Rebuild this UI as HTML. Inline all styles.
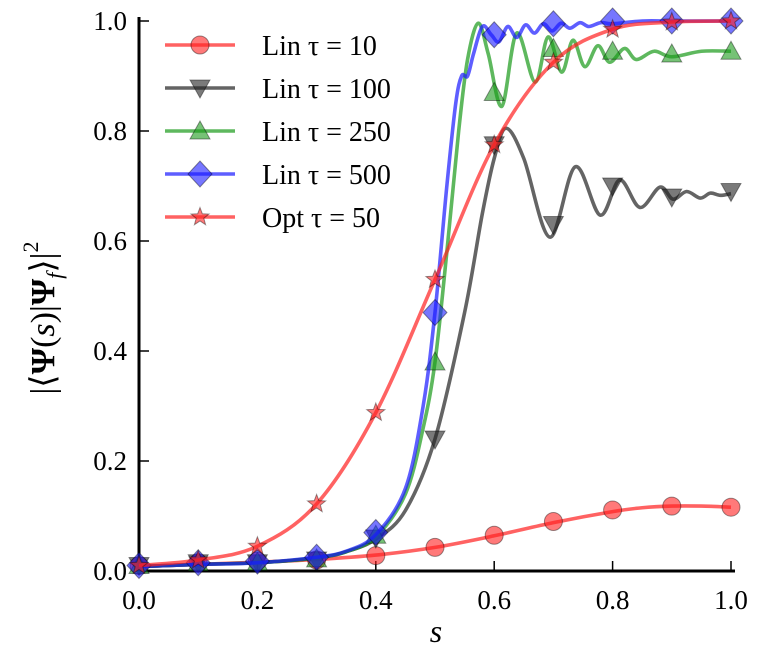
<!DOCTYPE html>
<html><head><meta charset="utf-8"><style>
html,body{margin:0;padding:0;background:#fff;}
svg{display:block;font-family:"Liberation Serif",serif;}
</style></head><body>
<svg id="chart" width="758" height="648" viewBox="0 0 758 648"></svg>
<script>
// ---- data ----
const markerS = [0,0.1,0.2,0.3,0.4,0.5,0.6,0.7,0.8,0.9,1.0];
const lin10Markers  = [0.010,0.015,0.018,0.020,0.028,0.043,0.065,0.090,0.111,0.118,0.116];
const lin100Markers = [0.010,0.015,0.015,0.020,0.060,0.240,0.775,0.630,0.700,0.680,0.690];
const lin250Markers = [0.010,0.015,0.016,0.022,0.065,0.380,0.870,0.950,0.945,0.940,0.945];
const lin500Markers = [0.010,0.015,0.018,0.025,0.070,0.470,0.975,0.995,1.000,1.000,1.000];
const opt50Markers  = [0.010,0.020,0.045,0.122,0.288,0.530,0.775,0.925,0.985,0.998,1.000];

const lin10S = [0,0.1,0.2,0.3,0.4,0.5,0.6,0.7,0.8,0.85,0.9,0.95,1.0];
const lin10V = [0.008,0.012,0.016,0.021,0.029,0.043,0.064,0.088,0.108,0.115,0.118,0.118,0.116];

const lin100S = [0,0.1,0.2,0.3,0.35,0.4,0.45,0.5,0.55,0.58,0.6,0.62,0.65,0.694,0.737,0.779,0.812,0.846,0.88,0.902,0.925,0.948,0.965,0.982,1.0];
const lin100V = [0.008,0.012,0.015,0.024,0.035,0.058,0.11,0.24,0.47,0.65,0.75,0.805,0.75,0.607,0.735,0.647,0.711,0.661,0.698,0.676,0.690,0.678,0.687,0.683,0.686];

const lin250S = [0,0.1,0.2,0.3,0.35,0.4,0.45,0.48,0.5,0.52,0.54,0.555,0.573,0.59,0.613,0.638,0.669,0.691,0.714,0.733,0.753,0.775,0.795,0.82,0.84,0.87,0.9,0.95,1.0];
const lin250V = [0.008,0.012,0.015,0.024,0.035,0.062,0.14,0.26,0.38,0.58,0.80,0.93,0.996,0.94,0.845,0.978,0.889,0.971,0.907,0.965,0.917,0.955,0.925,0.950,0.930,0.945,0.935,0.945,0.945];

const lin500S = [0,0.1,0.2,0.3,0.35,0.4,0.45,0.48,0.5,0.52,0.535,0.545,0.555,0.565,0.58,0.595,0.608,0.623,0.638,0.653,0.668,0.683,0.698,0.713,0.728,0.745,0.76,0.78,0.8,0.85,0.9,1.0];
const lin500V = [0.008,0.012,0.015,0.025,0.036,0.066,0.15,0.30,0.47,0.70,0.85,0.90,0.90,0.94,0.99,0.975,0.962,0.99,0.97,0.993,0.978,0.995,0.982,0.996,0.987,0.997,0.99,0.997,0.995,1.0,1.0,1.0];

const opt50S = [0,0.1,0.2,0.3,0.4,0.5,0.6,0.7,0.8,0.9,1.0];
const opt50V = [0.010,0.020,0.045,0.122,0.288,0.530,0.775,0.925,0.985,0.998,1.000];

const xTicks = [0,0.2,0.4,0.6,0.8,1.0];
const yTicks = [0,0.2,0.4,0.6,0.8,1.0];
const legendLabels = ["Lin τ = 10","Lin τ = 100","Lin τ = 250","Lin τ = 500","Opt τ = 50"];

// ---- axes ----
const X0=139,X1=731,Y0=571,Y1=21;
const xs = s => X0 + (X1-X0)*s;
const ys = v => Y0 - (Y0-Y1)*v;
const NS="http://www.w3.org/2000/svg";
const svg=document.getElementById('chart');
function el(tag,attrs,parent){const e=document.createElementNS(NS,tag);for(const k in attrs)e.setAttribute(k,attrs[k]);(parent||svg).appendChild(e);return e;}

function smoothPath(S,V){
  const p=S.map((s,i)=>[xs(s),ys(V[i])]);
  let d=`M${p[0][0]},${p[0][1]}`;
  for(let i=0;i<p.length-1;i++){
    const p0=p[i-1]||p[i],p1=p[i],p2=p[i+1],p3=p[i+2]||p2;
    const c1=[p1[0]+(p2[0]-p0[0])/6,p1[1]+(p2[1]-p0[1])/6];
    const c2=[p2[0]-(p3[0]-p1[0])/6,p2[1]-(p3[1]-p1[1])/6];
    d+=` C${c1[0]},${c1[1]} ${c2[0]},${c2[1]} ${p2[0]},${p2[1]}`;
  }
  return d;
}
function marker(type,cx,cy,color,g){
  const st={fill:color,'fill-opacity':0.6,stroke:'#000','stroke-opacity':0.4,'stroke-width':1};
  let m;
  if(type==='circle'){m=el('circle',Object.assign({cx,cy,r:9},st),g);}
  else if(type==='tridown'){m=el('polygon',Object.assign({points:`${cx-10},${cy-8} ${cx+10},${cy-8} ${cx},${cy+10}`},st),g);}
  else if(type==='triup'){m=el('polygon',Object.assign({points:`${cx-10},${cy+8} ${cx+10},${cy+8} ${cx},${cy-10}`},st),g);}
  else if(type==='diamond'){m=el('polygon',Object.assign({points:`${cx},${cy-13} ${cx+12},${cy} ${cx},${cy+13} ${cx-12},${cy}`},st),g);}
  else {let pts=[];for(let k=0;k<10;k++){const r=k%2?4:9.5;const a=-Math.PI/2+k*Math.PI/5;pts.push(`${cx+r*Math.cos(a)},${cy+r*Math.sin(a)}`);}
    m=el('polygon',Object.assign({points:pts.join(' ')},st),g);}
  return m;
}

// ticks and labels
const axG=el('g',{});


xTicks.forEach(t=>{
  const l=el('line',{x1:xs(t),x2:xs(t),y1:Y0,y2:Y0-10,stroke:'#000','stroke-width':1.5},axG);
  
  
  const tx=el('text',{x:xs(t),y:Y0+38,'text-anchor':'middle','font-size':27},axG);
  tx.textContent=t.toFixed(1);
  
  
});
yTicks.forEach(t=>{
  const l=el('line',{x1:X0,x2:X0+10,y1:ys(t),y2:ys(t),stroke:'#000','stroke-width':1.5},axG);
  
  
  const tx=el('text',{x:X0-12,y:ys(t)+9,'text-anchor':'end','font-size':27},axG);
  tx.textContent=t.toFixed(1);
  
  
});

const series=[
  {S:lin10S,V:lin10V,M:lin10Markers,color:'#ff2020',type:'circle',name:'lin-tau-10'},
  {S:lin100S,V:lin100V,M:lin100Markers,color:'#222222',type:'tridown',name:'lin-tau-100'},
  {S:lin250S,V:lin250V,M:lin250Markers,color:'#1a9a1a',type:'triup',name:'lin-tau-250'},
  {S:lin500S,V:lin500V,M:lin500Markers,color:'#1a1aff',type:'diamond',name:'lin-tau-500'},
  {S:opt50S,V:opt50V,M:opt50Markers,color:'#ff2020',type:'star',name:'opt-tau-50'}
];
series.forEach(sr=>{
  const g=el('g',{});
  
  
  const p=el('path',{d:smoothPath(sr.S,sr.V),fill:'none',stroke:sr.color,'stroke-width':3.6,'stroke-opacity':0.7},g);
  
  
  markerS.forEach((s,i)=>{
    const m=marker(sr.type,xs(s),ys(sr.M[i]),sr.color,g);
    
    
  });
});

// spines
const sp=el('path',{d:`M${X0},${Y1-4} L${X0},${Y0} L${X1+4},${Y0}`,fill:'none',stroke:'#000','stroke-width':3},axG);



// legend
const lg=el('g',{});


legendLabels.forEach((lab,i)=>{
  const y=45+i*43;const sr=series[i];
  const e=el('g',{},lg);
  
  
  el('line',{x1:165,x2:235,y1:y,y2:y,stroke:sr.color,'stroke-width':3.6,'stroke-opacity':0.7},e);
  marker(sr.type,200,y,sr.color,e);
  const t=el('text',{x:262,y:y+10,'font-size':28},e);
  t.textContent=lab;
});

// axis titles
const xl=el('text',{x:436,y:642,'text-anchor':'middle','font-size':32,'font-style':'italic'});
xl.textContent='s';


const yl=el('text',{x:0,y:0,'text-anchor':'middle','font-size':34,transform:'translate(54,318) rotate(-90)'});
yl.innerHTML='|⟨<tspan font-weight="bold">Ψ</tspan>(<tspan font-style="italic">s</tspan>)|<tspan font-weight="bold">Ψ</tspan><tspan font-style="italic" font-size="22" dy="8">f</tspan><tspan dy="-8">⟩|</tspan><tspan font-size="22" dy="-16">2</tspan>';


</script>
</body></html>
